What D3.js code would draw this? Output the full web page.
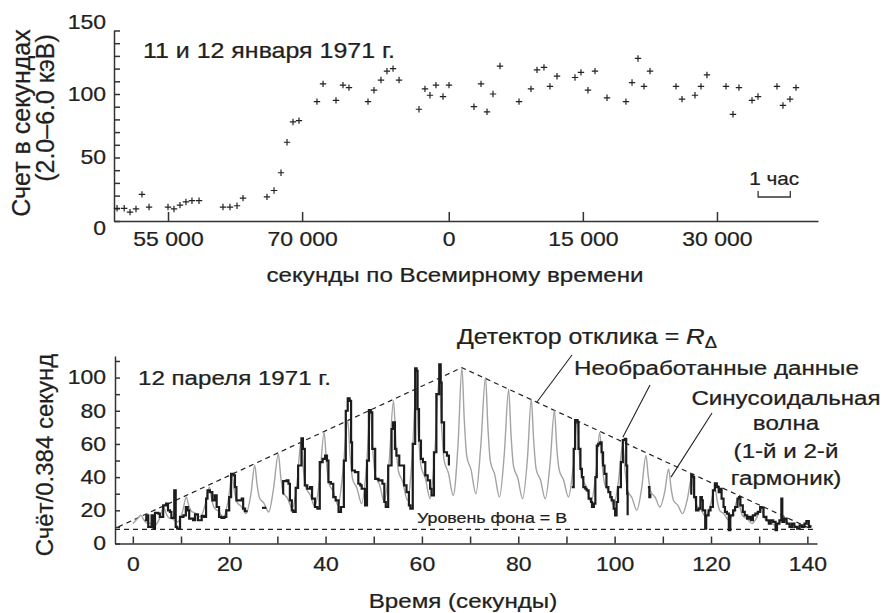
<!DOCTYPE html>
<html>
<head>
<meta charset="utf-8">
<script src="https://cdn.jsdelivr.net/npm/d3@7"></script>
<style>
  body { margin: 0; background: #fff; }
  svg { display: block; font-family: "Liberation Sans", Arial, sans-serif; fill: #231f20; }
  svg text { stroke: #231f20; stroke-width: 0.25; }
  .axis path, .axis line { stroke: #333; stroke-width: 1.5; }
  .axis text { fill: #231f20; font-size: 20px; }
</style>
</head>
<body>
<svg id="chart" width="886" height="613"></svg>
<script>
// top panel: 11-12 Jan 1971, seconds UT counted from 0h on Jan 11
const janTime = [49300, 50100, 50750, 51420, 52090, 52880, 55000, 55670, 56340, 57010, 57680, 58470,
  61150, 61930, 62720, 63390, 66070, 66860, 67640, 68310, 68980, 69650, 71660, 72340, 73790, 74570,
  75240, 77370, 78040, 78820, 79490, 80170, 80840, 83070, 83740, 84300, 84970, 85760, 86430, 89220,
  90010, 90680, 91350, 92130, 94260, 95600, 96270, 97050, 97720, 98510, 100520, 101190, 101970,
  102760, 104100, 106220, 106900, 107570, 108240, 108910, 111820, 112490, 113940, 114610, 115280,
  117410, 118190, 118860, 120320, 120990, 123110, 123780, 124570, 125240];
const janCount = [10, 10, 7, 9.5, 21, 11, 11, 9.5, 12.5, 15, 16, 16,
  11, 11, 12, 18, 19, 24, 38, 62, 78, 79, 94, 108, 95, 107,
  105, 94, 103, 111, 118, 120, 111, 88, 104, 99, 107, 98, 107, 90,
  108, 86, 100, 122, 94, 104, 119, 121, 106, 114, 113, 117, 103,
  118, 97, 94, 109, 128, 106, 118, 106, 96, 99, 106, 115,
  106, 84, 105, 95, 98, 106, 91, 96, 105];
const janXTicks = [55000, 70000, 86400, 101400, 116400];
const janYTicks = [0, 10, 20, 30, 40, 50, 60, 70, 80, 90, 100, 110, 120, 130, 140, 150];
const janYLabels = [0, 50, 100, 150];
const hourBar = [121000, 124600];

// bottom panel: 12 Apr 1971, counts per 0.384 s
const sineFit = [
  [0, 12], [0.8, 14.5],
  [1.7, 17], [2.2, 14.5], [2.7, 12.8], [3.6, 12.1], [4.6, 11], [5.6, 15.4],
  [6.4, 22], [6.9, 18.2], [7.4, 15.7], [8.3, 14.7], [9.3, 13], [10.3, 19],
  [11.1, 28], [11.6, 23], [12.1, 19.6], [13.0, 18.3], [14.0, 16], [15.0, 23.2],
  [15.9, 34], [16.4, 26.4], [16.9, 21.4], [17.8, 19.4], [18.8, 16], [19.8, 26],
  [20.6, 41], [21.1, 31.3], [21.6, 24.9], [22.5, 22.4], [23.5, 18], [24.5, 29.6],
  [25.3, 47], [25.8, 35.2], [26.3, 27.4], [27.2, 24.3], [28.2, 19], [29.2, 33],
  [30.2, 54], [30.7, 40.1], [31.2, 30.9], [32.1, 27.3], [33.1, 21], [34.1, 37],
  [34.9, 61], [35.4, 44.6], [35.9, 33.7], [36.8, 29.4], [37.8, 22], [38.8, 40],
  [39.7, 67], [40.2, 48.5], [40.7, 36.2], [41.6, 31.4], [42.6, 23], [43.6, 43.4],
  [44.6, 74], [45.1, 53], [45.6, 39], [46.5, 33.5], [47.5, 24], [48.5, 46.4],
  [49.3, 80], [49.8, 56.9], [50.3, 41.5], [51.2, 35.5], [52.2, 25], [53.2, 49.4],
  [54.1, 86], [54.6, 60.8], [55.1, 44], [56.0, 37.4], [57.0, 26], [58.0, 52.8],
  [58.8, 93], [59.3, 65.3], [59.8, 46.8], [60.7, 39.5], [61.7, 27], [62.7, 56.2],
  [63.6, 100], [64.1, 70.2], [64.6, 50.3], [65.5, 42.5], [66.5, 29], [67.5, 59.8],
  [68.3, 106], [68.8, 74.1], [69.3, 52.8], [70.2, 44.4], [71.2, 30], [72.2, 58],
  [73.2, 100], [73.7, 69.8], [74.2, 49.6], [75.1, 41.7], [76.1, 28], [77.1, 54],
  [78.0, 93], [78.5, 65.3], [79.0, 46.8], [79.9, 39.5], [80.9, 27], [81.9, 51],
  [82.7, 87], [83.2, 61.8], [83.7, 45], [84.6, 38.4], [85.6, 27], [86.6, 48.2],
  [87.5, 80], [88.0, 57.3], [88.5, 44.2], [89.4, 38.3], [90.4, 28], [91.4, 46.2],
  [92.2, 74], [92.7, 53.4], [93.2, 39.7], [94.1, 34.3], [95.1, 25], [96.1, 41.8],
  [96.9, 67], [97.4, 48.5], [97.9, 36.2], [98.8, 31.4], [99.8, 23], [100.8, 37.8],
  [101.7, 60], [102.2, 43.2], [102.7, 32], [103.6, 27.6], [104.6, 20], [105.6, 33.2],
  [106.5, 53], [107.0, 40], [107.5, 31.3], [108.4, 27.9], [109.4, 22], [110.4, 31.2],
  [111.2, 45], [111.7, 33.7], [112.2, 26.1], [113.1, 23.1], [114.1, 18], [115.1, 26.8],
  [116.0, 40], [116.5, 29.9], [117.0, 23.2], [117.9, 20.6], [118.9, 16], [119.9, 23.2],
  [120.8, 34], [121.3, 25.6], [121.8, 20], [122.7, 17.8], [123.7, 14], [124.7, 19.2],
  [125.6, 27], [126.1, 20.7], [126.6, 16.5], [127.5, 14.9], [128.5, 12], [129.5, 15.6],
  [130.4, 21], [130.9, 16.8], [131.4, 14], [132.3, 12.9], [133.3, 11], [134.3, 13],
  [135.1, 16], [135.6, 13.5], [136.1, 11.8], [137.0, 11.1], [138.0, 10], [139.0, 10.8],
  [139.9, 12], [140.4, 11], [141, 10.5]
];

const rawA = [[2.5, 14], [2.8, 17], [3.2, 10], [3.9, 17], [4.3, 9.3], [4.6, 18.5], [5.3, 18], [5.6, 16],
  [6.3, 23], [6.9, 24], [7.3, 20], [7.7, 19], [8.0, 15.5], [8.6, 32], [8.9, 10], [9.2, 9], [9.8, 16],
  [10.5, 17], [11.0, 22], [11.4, 20], [11.7, 15], [12.5, 14], [12.9, 17.5], [13.5, 14], [14.3, 16.6],
  [14.8, 16], [15.2, 27], [15.5, 32], [16.0, 31], [16.5, 26], [17.0, 29], [17.4, 22], [17.9, 16],
  [18.4, 15.5], [19.0, 16], [19.4, 20], [20.0, 28], [20.4, 42], [20.9, 41], [21.2, 34], [21.5, 26],
  [22.2, 26], [22.6, 27], [22.9, 21], [23.3, 19.5], [23.6, 20]];
const rawB = [[26.8, 21.5], [27.7, 21.5]];
const rawC = [[31.1, 30], [31.2, 37.6], [31.9, 38], [32.3, 36], [32.6, 26], [33.0, 20], [33.3, 19],
  [33.8, 33.5], [34.3, 47], [35.0, 63.4], [35.3, 57], [35.7, 35], [36.2, 33], [36.8, 34], [37.2, 27],
  [37.8, 22], [38.3, 21], [38.8, 49], [39.4, 51], [39.9, 53], [40.3, 50], [40.6, 37], [41.1, 36],
  [41.6, 28], [42.1, 26], [42.7, 19], [43.2, 22], [43.8, 50], [44.2, 80], [44.6, 87.5], [45.0, 86],
  [45.3, 61], [45.5, 44], [46.1, 43], [46.8, 36], [47.2, 35], [47.5, 33], [48.2, 23], [48.6, 50],
  [49.0, 80.4], [49.4, 79], [49.7, 57], [50.3, 39], [51.0, 38], [51.8, 36], [52.2, 25], [52.5, 22],
  [53.0, 47], [53.7, 69], [54.0, 73], [54.4, 57], [54.7, 53], [55.3, 47], [55.8, 47], [56.3, 35],
  [56.8, 31], [57.3, 23], [57.6, 21], [58.1, 60], [58.6, 105.5], [58.9, 104], [59.1, 81], [59.4, 62],
  [59.8, 51], [60.2, 49], [60.7, 41], [61.2, 38], [61.7, 33], [62.0, 29], [62.5, 55], [63.0, 90],
  [63.6, 108], [63.9, 97], [64.1, 73], [64.6, 55], [65.2, 53], [65.6, 47]];
const rawD = [[91.1, 34], [91.5, 57], [91.8, 74.4], [92.3, 73], [92.5, 57], [92.9, 45], [93.2, 40],
  [93.5, 34], [93.9, 33], [94.2, 32], [94.6, 27], [95.1, 25], [95.3, 22], [95.7, 24], [96.0, 40],
  [96.3, 59], [96.6, 60], [97.0, 61], [97.3, 55], [97.6, 47], [97.9, 42], [98.3, 34], [98.7, 31],
  [99.1, 28], [99.4, 26], [99.8, 21], [100.1, 17], [100.4, 25], [100.7, 34], [101.3, 49],
  [101.7, 62.3], [102.1, 63], [102.4, 47], [102.6, 30], [102.7, 17]];
const rawE = [[106.9, 34], [107.2, 28], [107.4, 30]];
const rawF = [[115.7, 30], [115.9, 41.3], [116.2, 40], [116.5, 28], [116.9, 20], [117.4, 21], [117.8, 28],
  [118.1, 26], [118.3, 20], [118.8, 9], [119.0, 17], [119.5, 20], [119.9, 22], [120.4, 32], [120.8, 36.3],
  [121.2, 34], [121.6, 31], [121.9, 33], [122.2, 27], [122.6, 22], [122.9, 19], [123.3, 18], [123.7, 8],
  [124.0, 17], [124.6, 20], [125.0, 22], [125.5, 27], [125.8, 28], [126.1, 23], [126.6, 19], [127.0, 17],
  [127.5, 15], [127.9, 16], [128.3, 14], [128.7, 17], [129.2, 18], [129.7, 19], [130.2, 22], [130.5, 21.6],
  [130.9, 16], [131.5, 14], [132.0, 12], [132.4, 14], [132.9, 13], [133.4, 8], [133.7, 12], [134.2, 14],
  [134.6, 27], [134.8, 13], [135.2, 15], [135.7, 12], [136.3, 10], [136.8, 12], [137.3, 10], [137.9, 9],
  [138.4, 11], [138.9, 10], [139.4, 12], [139.8, 13.5], [140.3, 10], [140.6, 11]];

const envelope = [[-3, 10], [68.3, 106], [141, 8.5]];
const backgroundLevel = 8.5;
const aprXTicks = [0, 10, 20, 30, 40, 50, 60, 70, 80, 90, 100, 110, 120, 130, 140];
const aprYTicks = [0, 10, 20, 30, 40, 50, 60, 70, 80, 90, 100, 110];

const SX = 1.15; // printed glyphs are a little wider than Liberation Sans

function stretch(sel) {
  sel.each(function () {
    const t = d3.select(this);
    const x = +t.attr("x") || 0;
    t.attr("transform", `translate(${x * (1 - SX)},0) scale(${SX},1)`);
  });
}

const svg = d3.select("#chart");
const fmt = d3.formatLocale({ decimal: ".", thousands: "\u00a0", grouping: [3], currency: ["", ""] }).format(",");

// ---------- top panel ----------
const xTop = d3.scaleLinear().domain([48960, 127700]).range([114, 818]);
const yTop = d3.scaleLinear().domain([0, 150]).range([221, 30.5]);

const gxTop = svg.append("g").attr("class", "axis").attr("transform", "translate(0,221)")
  .call(d3.axisBottom(xTop).tickValues(janXTicks).tickSize(-9).tickSizeOuter(0).tickPadding(11)
    .tickFormat(d => fmt(d % 86400)));
stretch(gxTop.selectAll("text"));

const gyTop = svg.append("g").attr("class", "axis").attr("transform", "translate(114,0)")
  .call(d3.axisLeft(yTop).tickValues(janYTicks).tickSize(-6).tickSizeOuter(0).tickPadding(8)
    .tickFormat(d => janYLabels.includes(d) ? d : ""));
gyTop.selectAll("text").attr("dy", d => d === 0 ? "0.65em" : d === 150 ? "-0.1em" : "0.32em");
stretch(gyTop.selectAll("text"));

svg.append("g").selectAll("path")
  .data(janTime)
  .join("path")
  .attr("d", (d, i) => {
    const x = xTop(d), y = yTop(janCount[i]);
    return `M${x - 3.2},${y}h6.4M${x},${y - 3.2}v6.4`;
  })
  .attr("stroke", "#222")
  .attr("stroke-width", 1.2);

// 1 hour scale bar
svg.append("path")
  .attr("d", `M${xTop(hourBar[0])},191V197H${xTop(hourBar[1])}V191`)
  .attr("fill", "none").attr("stroke", "#333").attr("stroke-width", 1.3);
stretch(svg.append("text").attr("x", xTop((hourBar[0] + hourBar[1]) / 2)).attr("y", 185)
  .attr("text-anchor", "middle").attr("font-size", 18).text("1 час"));

stretch(svg.append("text").attr("x", 143).attr("y", 58).attr("font-size", 21.7)
  .text("11 и 12 января 1971 г."));
stretch(svg.append("text").attr("x", 455).attr("y", 282).attr("text-anchor", "middle").attr("font-size", 21)
  .text("секунды по Всемирному времени"));
svg.append("text").attr("transform", "translate(30,123) rotate(-90)").attr("text-anchor", "middle")
  .attr("font-size", 25).text("Счет в секундах");
svg.append("text").attr("transform", "translate(54,108) rotate(-90)").attr("text-anchor", "middle")
  .attr("font-size", 25).text("(2.0–6.0 кэВ)");

// ---------- bottom panel ----------
const xBot = d3.scaleLinear().domain([-3.7, 142]).range([115, 817]);
const yBot = d3.scaleLinear().domain([0, 113]).range([543.5, 356]);

const gxBot = svg.append("g").attr("class", "axis").attr("transform", "translate(0,543.5)")
  .call(d3.axisBottom(xBot).tickValues(aprXTicks).tickSize(-7).tickSizeOuter(0).tickPadding(13)
    .tickFormat(d => d % 20 === 0 ? d : ""));
stretch(gxBot.selectAll("text"));

const gyBot = svg.append("g").attr("class", "axis").attr("transform", "translate(115,0)")
  .call(d3.axisLeft(yBot).tickValues(aprYTicks).tickSize(-5).tickSizeOuter(0).tickPadding(9)
    .tickFormat(d => d % 20 === 0 ? d : ""));
stretch(gyBot.selectAll("text"));

// dashed background level and response triangle
svg.append("line")
  .attr("x1", xBot(-3.7)).attr("x2", xBot(141.5))
  .attr("y1", yBot(backgroundLevel)).attr("y2", yBot(backgroundLevel))
  .attr("stroke", "#222").attr("stroke-width", 1.2).attr("stroke-dasharray", "5,4");
svg.append("path")
  .datum(envelope)
  .attr("d", d3.line().x(d => xBot(d[0])).y(d => yBot(d[1])))
  .attr("fill", "none").attr("stroke", "#222").attr("stroke-width", 1.2).attr("stroke-dasharray", "5,4");

svg.append("path")
  .datum(sineFit)
  .attr("d", d3.line().x(d => xBot(d[0])).y(d => yBot(d[1])).curve(d3.curveMonotoneX))
  .attr("fill", "none").attr("stroke", "#a3a3a3").attr("stroke-width", 1.4);

const rawLine = d3.line().x(d => xBot(d[0])).y(d => yBot(d[1])).curve(d3.curveStepAfter);
svg.append("g").selectAll("path")
  .data([rawA, rawB, rawC, rawD, rawE, rawF])
  .join("path")
  .attr("d", rawLine)
  .attr("fill", "none").attr("stroke", "#1c1c1c").attr("stroke-width", 2.2)
  .attr("stroke-linejoin", "miter");

// labels
stretch(svg.append("text").attr("x", 138).attr("y", 385).attr("font-size", 21).text("12 пареля 1971 г."));
stretch(svg.append("text").attr("x", 417).attr("y", 523).attr("font-size", 15.5).text("Уровень фона = В"));
stretch(svg.append("text").attr("x", 463).attr("y", 608).attr("text-anchor", "middle").attr("font-size", 21)
  .text("Время (секунды)"));
svg.append("text").attr("transform", "translate(53,455) rotate(-90)").attr("text-anchor", "middle")
  .attr("font-size", 24).text("Счёт/0.384 секунд");

const det = svg.append("text").attr("x", 457).attr("y", 344).attr("font-size", 21.6);
det.append("tspan").text("Детектор отклика = ");
det.append("tspan").attr("font-style", "italic").attr("font-size", 22.5).text("R");
det.append("tspan").attr("font-size", 16).attr("dy", 4).text("Δ");
stretch(det);

stretch(svg.append("text").attr("x", 574).attr("y", 375).attr("font-size", 21).text("Необработанные данные"));
const sinLabel = svg.append("text").attr("font-size", 21).attr("text-anchor", "middle");
[["Синусоидальная", 405], ["волна", 430], ["(1-й и 2-й", 458], ["гармоник)", 485]].forEach(([s, y]) => {
  sinLabel.append("tspan").attr("x", 786).attr("y", y).text(s);
});
sinLabel.attr("transform", `translate(${786 * (1 - SX)},0) scale(${SX},1)`);

// leader lines, from label to the curve they name
const leaders = [
  { from: [572, 355], to: [83.8, 85] },
  { from: [650, 385], to: [101.7, 64] },
  { from: [712, 413], to: [111.7, 40] }
];
svg.append("g").selectAll("line")
  .data(leaders)
  .join("line")
  .attr("x1", d => d.from[0]).attr("y1", d => d.from[1])
  .attr("x2", d => xBot(d.to[0])).attr("y2", d => yBot(d.to[1]))
  .attr("stroke", "#222").attr("stroke-width", 1.1);
</script>
</body>
</html>
